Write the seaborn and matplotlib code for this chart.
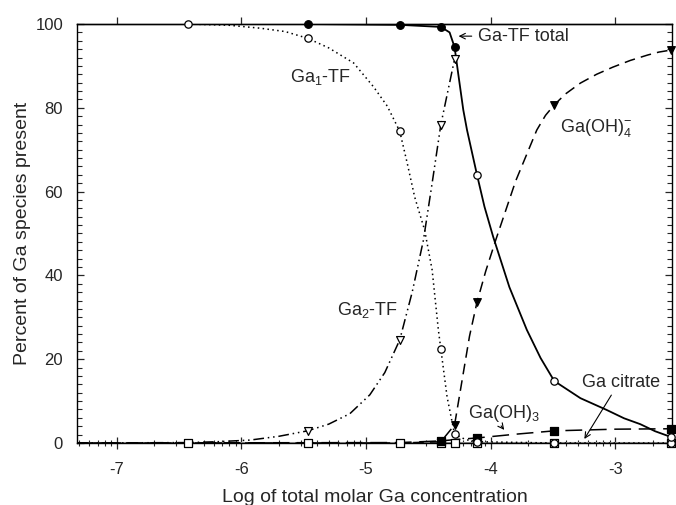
import numpy as np
import matplotlib
matplotlib.use("Agg")
import matplotlib.pyplot as plt
from matplotlib.ticker import FixedLocator, MultipleLocator, NullLocator
import seaborn as sns

# ---------------- data ----------------
# marker x positions (log molar Ga concentration)
x_pts = [-6.43, -5.47, -4.73, -4.40, -4.29, -4.11, -3.49, -2.55]

# Ga-TF total (solid line)
total_line_x = [-7.32, -6.43, -5.47, -4.73, -4.40, -4.33, -4.29, -4.26, -4.22, -4.19, -4.11, -4.05, -3.98,
                -3.85, -3.71, -3.60, -3.49, -3.28, -3.07, -2.93, -2.80, -2.68, -2.55]
total_line_y = [100.0, 100.0, 100.0, 99.8, 99.3, 98.0, 94.5, 88.0, 79.5, 74.7, 64.0, 56.4, 49.2,
                37.2, 27.0, 20.3, 14.8, 10.7, 7.9, 5.9, 4.5, 2.8, 1.4]
total_filled_x = [-5.47, -4.73, -4.40, -4.29]
total_filled_y = [100.0, 99.8, 99.3, 94.5]
total_open_x = [-4.11, -3.49, -2.55]
total_open_y = [64.0, 14.8, 1.4]

# Ga1-TF (dotted line, open circles)
ga1_line_x = [-7.32, -6.43, -6.10, -5.85, -5.65, -5.47, -5.30, -5.10, -4.94, -4.83, -4.73, -4.67, -4.61, -4.53,
              -4.47, -4.42, -4.40, -4.35, -4.29, -4.20, -4.11, -3.49, -2.55]
ga1_line_y = [100.0, 100.0, 99.7, 99.0, 98.2, 96.6, 94.3, 90.7, 85.0, 80.4, 74.4, 66.8, 58.7, 50.8,
              41.3, 27.0, 22.4, 11.0, 2.1, 0.8, 0.3, 0.0, 0.0]
ga1_pts_y = [100.0, 96.6, 74.4, 22.4, 2.1, 0.3, 0.0, 0.0]

# Ga2-TF (dash-dot-dot line, open down triangles)
ga2_line_x = [-7.32, -6.43, -6.20, -5.93, -5.70, -5.47, -5.30, -5.13, -4.97, -4.85, -4.73, -4.63, -4.54,
              -4.47, -4.40, -4.29]
ga2_line_y = [0.0, 0.1, 0.3, 0.7, 1.6, 2.9, 4.5, 7.0, 11.5, 16.8, 24.6, 36.0, 48.4,
              62.0, 76.0, 91.6]
ga2_pts_x = [-5.47, -4.73, -4.40, -4.29]
ga2_pts_y = [2.9, 24.6, 76.0, 91.6]

# Ga(OH)4- (dashed line, filled down triangles)
oh4_line_x = [-7.32, -4.73, -4.40, -4.29, -4.17, -4.11, -4.04, -3.96, -3.80, -3.63, -3.56, -3.49, -3.40,
              -3.28, -3.15, -3.02, -2.88, -2.74, -2.65, -2.55]
oh4_line_y = [0.0, 0.0, 0.3, 4.3, 25.5, 33.6, 41.0, 48.4, 62.5, 74.7, 78.2, 80.7, 83.3,
              85.9, 88.0, 89.7, 91.3, 92.6, 93.3, 93.8]
oh4_pts_x = [-4.29, -4.11, -3.49, -2.55]
oh4_pts_y = [4.3, 33.6, 80.7, 93.8]

# Ga(OH)3 (long-dash line, filled squares)
oh3_line_x = [-7.32, -4.73, -4.40, -4.29, -4.11, -3.80, -3.49, -3.00, -2.55]
oh3_line_y = [0.0, 0.1, 0.5, 0.8, 1.2, 2.1, 2.9, 3.3, 3.4]
oh3_pts_x = [-4.40, -4.11, -3.49, -2.55]
oh3_pts_y = [0.5, 1.2, 2.9, 3.4]

# Ga citrate (grey line, open squares)
cit_line_x = [-7.32, -2.55]
cit_line_y = [0.0, 0.0]
cit_pts_x = [-6.43, -5.47, -4.73, -4.40, -4.29, -4.11, -3.49, -2.55]
cit_pts_y = [0.0, 0.0, 0.0, 0.0, 0.0, 0.0, 0.0, 0.0]

x_major = [-7, -6, -5, -4, -3]
y_major = [0, 20, 40, 60, 80, 100]

# ---------------- style ----------------
sns.set_style("ticks")
plt.rcParams["font.family"] = ["Liberation Sans", "DejaVu Sans"]
plt.rcParams["mathtext.fontset"] = "custom"
plt.rcParams["mathtext.rm"] = "Liberation Sans"
plt.rcParams["mathtext.it"] = "Liberation Sans:italic"
plt.rcParams["mathtext.bf"] = "Liberation Sans:bold"

fig = plt.figure(figsize=(6.76, 5.05), dpi=100)
ax = fig.add_axes([77 / 676, 62 / 505, (672 - 77) / 676, (443 - 24) / 505])

K = "black"
LW = 1.1

def line(x, y, **kw):
    sns.lineplot(x=x, y=y, ax=ax, sort=False, estimator=None, **kw)

def pts(x, y, marker, face, s=30, z=5):
    sns.scatterplot(x=x, y=y, ax=ax, marker=marker, s=s, facecolors=face,
                    edgecolor=K, linewidth=0.9, zorder=z, clip_on=False)

# lines
line(cit_line_x, cit_line_y, color="#9a9a9a", linewidth=2.2, zorder=2)
line(oh3_line_x, oh3_line_y, color=K, linewidth=LW, linestyle=(0, (11, 5)), zorder=3)
line(oh4_line_x, oh4_line_y, color=K, linewidth=LW, linestyle=(0, (7, 4)), zorder=3)
line(ga2_line_x, ga2_line_y, color=K, linewidth=LW, linestyle=(0, (7, 2.5, 1, 2.5, 1, 2.5)), zorder=3)
line(ga1_line_x, ga1_line_y, color=K, linewidth=LW, linestyle=(0, (1, 2.2)), zorder=3)
line(total_line_x, total_line_y, color=K, linewidth=1.3, zorder=4)

# markers
pts(cit_pts_x, cit_pts_y, "s", "white", s=28)
pts(oh3_pts_x, oh3_pts_y, "s", K, s=26)
pts(oh4_pts_x, oh4_pts_y, "v", K, s=30)
pts(ga2_pts_x, ga2_pts_y, "v", "white", s=32)
pts(x_pts, ga1_pts_y, "o", "white", s=28, z=6)
pts(total_open_x, total_open_y, "o", "white", s=28, z=6)
pts(total_filled_x, total_filled_y, "o", K, s=30, z=7)

# axes
ax.set_xlim(-7.32, -2.545)
ax.set_ylim(0, 100)
ax.xaxis.set_major_locator(FixedLocator(x_major))
minor = [d + np.log10(k) for d in range(-8, -2) for k in range(2, 10)]
ax.xaxis.set_minor_locator(FixedLocator(minor))
ax.yaxis.set_major_locator(FixedLocator(y_major))
ax.yaxis.set_minor_locator(MultipleLocator(2))
ax.set_xticklabels([str(v) for v in x_major])
ax.set_yticklabels([str(v) for v in y_major])

ax.tick_params(axis="x", which="major", direction="inout", length=8, width=0.9,
               labelsize=12, pad=10, top=False, bottom=True)
ax.tick_params(axis="x", which="minor", direction="inout", length=5, width=0.8,
               top=False, bottom=True)
ax.tick_params(axis="y", which="major", direction="in", length=5, width=0.9,
               labelsize=12, pad=10, left=True, right=True)
ax.tick_params(axis="y", which="minor", direction="in", length=3.5, width=0.8,
               left=True, right=True)

sec = ax.secondary_xaxis("top")
sec.xaxis.set_major_locator(FixedLocator(x_major))
sec.xaxis.set_minor_locator(NullLocator())
sec.tick_params(direction="out", length=5, width=0.9, labeltop=False)
sec.spines["top"].set_linewidth(1.0)

for sp in ax.spines.values():
    sp.set_linewidth(1.0)
    sp.set_color(K)

ax.set_xlabel("Log of total molar Ga concentration", fontsize=14, labelpad=8)
ax.set_ylabel("Percent of Ga species present", fontsize=14, labelpad=3)

# annotations
fs = 13
ax.text(-4.10, 97.1, "Ga-TF total", fontsize=fs, ha="left", va="center")
ax.annotate("", xy=(-4.28, 97.1), xytext=(-4.13, 97.1),
            arrowprops=dict(arrowstyle="->", color=K, lw=0.8))
ax.text(-5.61, 86.2, "Ga$_{1}$-TF", fontsize=fs, ha="left", va="baseline")
ax.text(-5.23, 30.5, "Ga$_{2}$-TF", fontsize=fs, ha="left", va="baseline")
ax.text(-3.44, 74.2, "Ga(OH)$_{4}^{-}$", fontsize=fs, ha="left", va="baseline")
ax.text(-4.18, 6.0, "Ga(OH)$_{3}$", fontsize=fs, ha="left", va="baseline")
ax.annotate("", xy=(-3.878, 2.6), xytext=(-3.93, 4.6),
            arrowprops=dict(arrowstyle="->", color=K, lw=0.8))
ax.text(-3.27, 13.4, "Ga citrate", fontsize=fs, ha="left", va="baseline")
ax.annotate("", xy=(-3.26, 0.4), xytext=(-3.02, 12.0),
            arrowprops=dict(arrowstyle="->", color=K, lw=0.8))

fig.savefig("out.png", dpi=100)
